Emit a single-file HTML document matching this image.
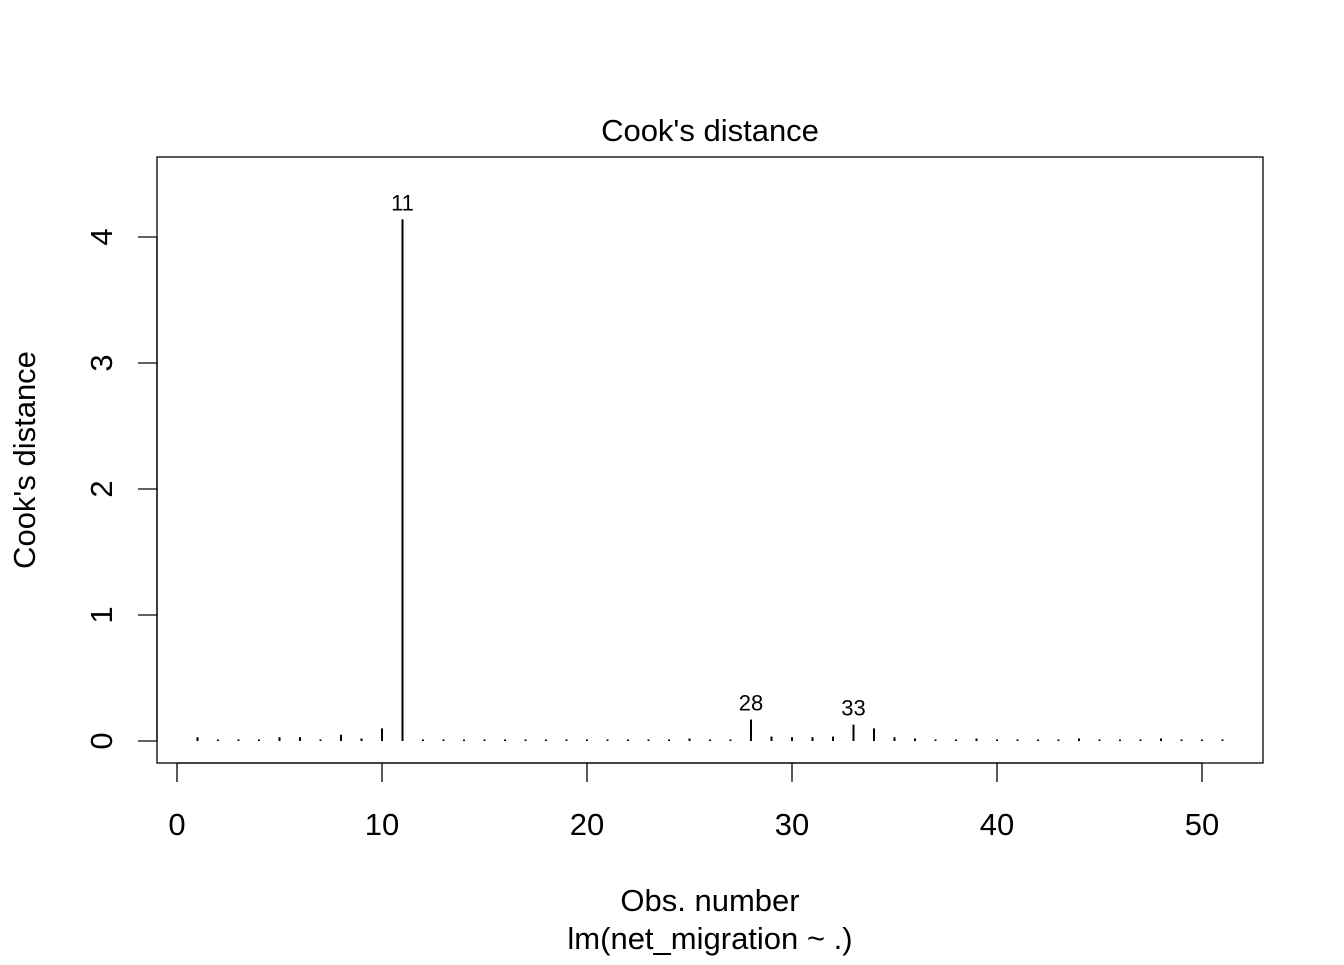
<!DOCTYPE html>
<html><head><meta charset="utf-8"><style>
body{margin:0;background:#fff}
svg text{font-family:"Liberation Sans",Arial,sans-serif;fill:#000}
</style></head><body>
<svg id="chart" width="1344" height="960" xmlns="http://www.w3.org/2000/svg">
<rect width="1344" height="960" fill="#fff"/>
<g id="marks"></g>
</svg>
<script>
const obs=[1,2,3,4,5,6,7,8,9,10,11,12,13,14,15,16,17,18,19,20,21,22,23,24,25,26,27,28,29,30,31,32,33,34,35,36,37,38,39,40,41,42,43,44,45,46,47,48,49,50,51];
const cooks=[0.03,0.005,0.005,0.005,0.03,0.03,0.005,0.05,0.02,0.1,4.14,0.005,0.005,0.005,0.005,0.005,0.005,0.005,0.005,0.005,0.005,0.005,0.005,0.005,0.02,0.005,0.005,0.17,0.035,0.03,0.03,0.035,0.13,0.1,0.03,0.02,0.005,0.005,0.02,0.005,0.005,0.005,0.005,0.02,0.005,0.005,0.005,0.02,0.01,0.01,0.01];
const xTicks=[0,10,20,30,40,50];
const yTicks=[0,1,2,3,4];
const labeled=[11,28,33];
const NS="http://www.w3.org/2000/svg";
const X=v=>177+v*20.5;
const Y=v=>741-v*126;
const g=document.getElementById('marks');
function mk(tag,attrs,txt){const e=document.createElementNS(NS,tag);for(const k in attrs)e.setAttribute(k,attrs[k]);if(txt!==undefined)e.textContent=txt;g.appendChild(e);return e;}
let e;
e=mk('rect',{x:157,y:157,width:1106,height:606,fill:'none',stroke:'#000','stroke-width':1.3});


e=mk('line',{x1:X(0),x2:X(50),y1:763,y2:763,stroke:'#000','stroke-width':1.3});


xTicks.forEach(t=>{
 e=mk('line',{x1:X(t),x2:X(t),y1:763,y2:782,stroke:'#000','stroke-width':1.3});
 
 
 e=mk('text',{x:X(t),y:835,'font-size':31,'text-anchor':'middle'},t);
 
 
});
e=mk('line',{x1:157,x2:157,y1:Y(0),y2:Y(4),stroke:'#000','stroke-width':1.3});


yTicks.forEach(t=>{
 e=mk('text',{x:0,y:0,'font-size':31,'text-anchor':'middle',transform:`translate(112,${Y(t)}) rotate(-90)`},t);
 
 
 e=mk('line',{x1:138,x2:157,y1:Y(t),y2:Y(t),stroke:'#000','stroke-width':1.3});
 
 
});
obs.forEach((o,i)=>{
 e=mk('line',{x1:X(o),x2:X(o),y1:Y(0),y2:Math.min(Y(cooks[i]),Y(0)-1.5),stroke:'#000','stroke-width':2});
 
 
});
labeled.forEach(o=>{
 const i=obs.indexOf(o);
 e=mk('text',{x:X(o),y:Y(cooks[i])-9,'font-size':22,'text-anchor':'middle'},o);
 
 
});
e=mk('text',{x:710,y:141,'font-size':31,'text-anchor':'middle'},"Cook's distance");


e=mk('text',{x:710,y:911,'font-size':31,'text-anchor':'middle'},"Obs. number");


e=mk('text',{x:710,y:949,'font-size':31,'text-anchor':'middle'},"lm(net_migration ~ .)");


e=mk('text',{x:0,y:0,'font-size':31,'text-anchor':'middle',transform:'translate(35,460) rotate(-90)'},"Cook's distance");


</script>
</body></html>
